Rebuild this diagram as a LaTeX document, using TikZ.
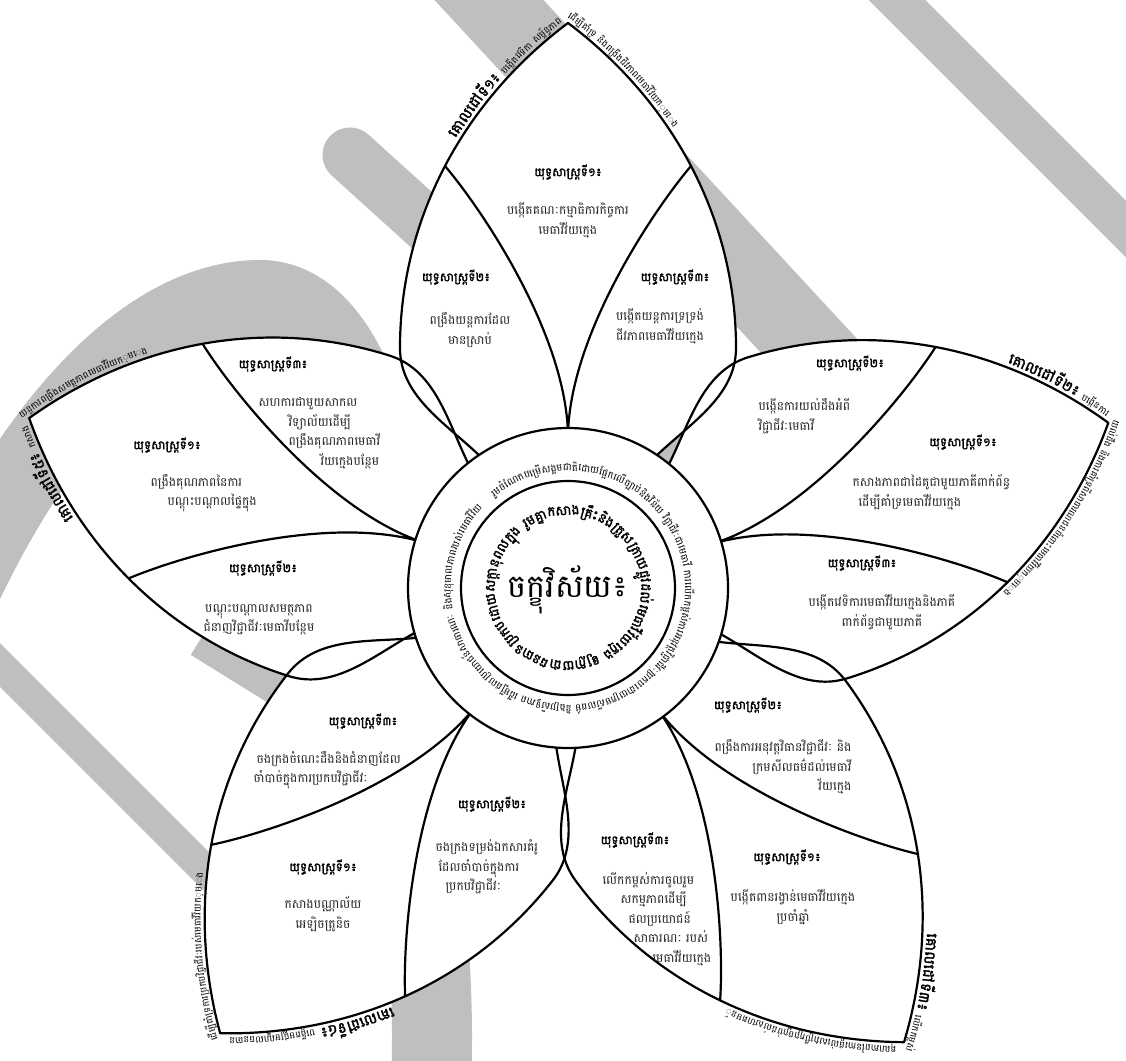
\documentclass[tikz,border=0pt]{standalone}
\usepackage{fontspec}
\usetikzlibrary{decorations.text}
\newfontfamily\khmer[Script=Khmer,AutoFakeBold=2]{Battambang}

% one petal in its own frame: tip up, base on the ring
\newcommand\petalline{(0,565) .. controls (104,487) and (168,370) .. (168,240) .. controls (168,190) and (119,163) .. (84,128) -- (-84,128) .. controls (-119,163) and (-168,190) .. (-168,240) .. controls (-168,370) and (-104,487) .. (0,565) -- cycle}
\newcommand\petalsplit{(-123,422) .. controls (-84,376) and (0,250) .. (0,150) .. controls (0,250) and (84,376) .. (123,422)}
\newcommand\petaltop{(-168,240) .. controls (-168,370) and (-104,487) .. (0,565) .. controls (104,487) and (168,370) .. (168,240)}
\newcommand\goalfont{\khmer\bfseries\fontsize{15}{15}\selectfont}
\newcommand\goalnote{\khmer\fontsize{9.5}{9.5}\selectfont}
\newcommand\ringfont{\khmer\fontsize{10}{10}\selectfont}
\newcommand\innerfont{\khmer\bfseries\fontsize{13.5}{13.5}\selectfont}

\begin{document}
\begin{tikzpicture}
    [x=1pt, y=1pt,
     petal/.style={draw=black, line width=2.2pt, line join=round},
     wmband/.style={draw=black!25, line width=#1},
     heading/.style={font=\khmer\bfseries\fontsize{12}{14}\selectfont},
     body/.style={font=\khmer\fontsize{12.3}{19.5}\selectfont, text=black!85, align=center}]

  % watermark, in picture pixels (y down)
  \begin{scope}[shift={(-568,588)}, yscale=-1]
    \useasboundingbox (0,0) rectangle (1126,1060);
    \fill[white] (0,0) rectangle (1126,1060);
    \draw[wmband=40] (867,-30) -- (1160,263);
    \draw[wmband=80] (451,-41) -- (886,429);
    \draw[wmband=55, line cap=round] (350,155) -- (700,472);
    \draw[wmband=80] (-40,590) .. controls (40,420) and (150,300) .. (260,300) .. controls (340,300) and (390,430) .. (400,640) .. controls (410,800) and (440,950) .. (430,1100);
    \draw[wmband=35] (200,640) -- (345,730);
    \draw[wmband=31] (-30,635) -- (260,925);
  \end{scope}

  % petals
  \foreach \r in {0,-73,-143.5,142,72.5}
    \fill[white, rotate=\r] \petalline;
  \foreach \r in {0,-73,-143.5,142,72.5} {
    \draw[petal, rotate=\r] \petalline;
    \draw[petal, rotate=\r] \petalsplit;
  }

  % goals round the tips
  \path[decorate, decoration={text along path, raise=4pt, text align={left indent=218pt},
    text={|\goalfont|{គោលដៅ}{ទី១៖} |\goalnote|{បង្កើត}{វេទិកា} {សម្ព័ន្ធ}{ភាព}{ដើម្បី}{គាំទ្រ} {និង}{ពង្រឹង}{ជីវភាព}{មេធាវី}{វ័យ}{ក្មេង}}}] \petaltop;
  \begin{scope}[rotate=-73]
    \path[decorate, decoration={text along path, raise=4pt, text align={left indent=262pt},
      text={|\goalfont|{គោលដៅ}{ទី២៖} |\goalnote|{បង្កើន}{ការ}{យល់}{ដឹង} {និង}{ការ}{គាំទ្រ}{ពី}{សាធារណជន}{ចំពោះ}{មេធាវី}{វ័យ}{ក្មេង}}}] \petaltop;
  \end{scope}
  \begin{scope}[rotate=-143.5]
    \path[decorate, decoration={text along path, raise=4pt, text align={left indent=268pt},
      text={|\goalfont|{គោលដៅ}{ទី៣៖} |\goalnote|{លើក}{កម្ពស់}{គុណភាព}{នៃ}{ការ}{ផ្តល់}{សេវា}{ប្រឹក្សា}{ច្បាប់}{ដល់}{សហគមន៍}}}] \petaltop;
  \end{scope}
  \begin{scope}[rotate=142]
    \path[decorate, decoration={text along path, raise=4pt, text align={left indent=205pt},
      text={|\goalfont|{គោលដៅ}{ទី៤៖} |\goalnote|{បង្កើត}{មជ្ឈ}{មណ្ឌល}{ធនធាន} {ដើម្បី}{គាំទ្រ}{ការ}{ប្រកប}{វិជ្ជា}{ជីវៈ}{របស់}{មេធាវី}{វ័យ}{ក្មេង}}}] \petaltop;
  \end{scope}
  \begin{scope}[rotate=72.5]
    \path[decorate, decoration={text along path, raise=4pt, text align={left indent=270pt},
      text={|\goalfont|{គោលដៅ}{ទី៥៖} |\goalnote|{កសាង}{យន្តការ}{ពង្រឹង}{សមត្ថភាព}{មេធាវី}{វ័យ}{ក្មេង}}}] \petaltop;
  \end{scope}

  % centre
  \draw[petal, fill=white] (0,0) circle[radius=160pt];
  \draw[petal] (0,0) circle[radius=107pt];
  \node[font=\khmer\fontsize{32}{32}\selectfont] (vision) at (0,-2) {ចក្ខុវិស័យ៖};
  \path[decorate, decoration={text along path, text align={fit to path},
    text={|\ringfont|{រួម}{ចំណែក}{បម្រើ}{សង្គម}{ជាតិ}{ដោយ}{ផ្អែក}{លើ}{ច្បាប់}{និង}{វិន័យ} {វិជ្ជា}{ជីវៈ}{ជា}{មេធាវី} {ការ}{លើក}{កម្ពស់}{ការ}{អនុវត្ត}{វិជ្ជា}{ជីវៈ}{ប្រកប}{ដោយ}{ក្រម}{សីល}{ធម៌} {និង}{ប្រសិទ្ធ}{ភាព} {ដើម្បី}{ផល}{ប្រយោជន៍}{សាធារណៈ} {និង}{សុខុមាល}{ភាព}{របស់}{មេធាវី}{វ័យ}{ក្មេង}}}]
    (129:117pt) arc[start angle=129, end angle=-223, radius=117pt];
  \path[decorate, decoration={text along path, text align={fit to path},
    text={|\innerfont|{រួម}{គ្នា}{កសាង}{គ្រឹះ}{និង}{ត្រួស}{ត្រាយ}{ផ្លូវ}{ដល់}{មេធាវី}{វ័យ}{ក្មេង} {ឲ្យ}{ក្លាយ}{ជា}{ធនធាន}{ប្រកប}{ដោយ}{សក្តា}{នុ}{ពល}{ក្នុង}{វិជ្ជា}{ជីវៈ}{មេធាវី}}}]
    (125:73pt) arc[start angle=125, end angle=-227, radius=73pt];

  % strategies, in picture pixels (y down)
  \begin{scope}[shift={(-568,588)}, yscale=-1]
    \node[heading] (s11h) at (568,172) {យុទ្ធសាស្ត្រទី១៖};
    \node[body] (s11b) at (568,220) {បង្កើតគណៈកម្មាធិការកិច្ចការ\\មេធាវីវ័យក្មេង};
    \node[heading] (s12h) at (456,277) {យុទ្ធសាស្ត្រទី២៖};
    \node[body] (s12b) at (470,330) {ពង្រឹងយន្តការដែល\\មានស្រាប់};
    \node[heading] (s13h) at (675,277) {យុទ្ធសាស្ត្រទី៣៖};
    \node[body] (s13b) at (660,326) {បង្កើតយន្តការទ្រទ្រង់\\ជីវភាពមេធាវីវ័យក្មេង};

    \node[heading] (s22h) at (850,363) {យុទ្ធសាស្ត្រទី២៖};
    \node[body, align=left, anchor=west] (s22b) at (755,416) {បង្កើនការយល់ដឹងអំពី\\វិជ្ជាជីវៈមេធាវី};
    \node[heading] (s21h) at (963,442) {យុទ្ធសាស្ត្រទី១៖};
    \node[body, align=left, anchor=west] (s21b) at (849,492) {កសាងភាពជាដៃគូជាមួយភាគីពាក់ព័ន្ធ\\\hspace*{6pt}ដើម្បីគាំទ្រមេធាវីវ័យក្មេង};
    \node[heading] (s23h) at (862,563) {យុទ្ធសាស្ត្រទី៣៖};
    \node[body] (s23b) at (882,612) {បង្កើតវេទិការមេធាវីវ័យក្មេងនិងភាគី\\ពាក់ព័ន្ធជាមួយភាគី};

    \node[heading] (s53h) at (273,364) {យុទ្ធសាស្ត្រទី៣៖};
    \node[body, align=left, anchor=west] (s53b) at (255,433) {សហការជាមួយសាកល\\\hspace*{30pt}វិទ្យាល័យដើម្បី\\\hspace*{30pt}ពង្រឹងគុណភាពមេធាវី\\\hspace*{62pt}វ័យក្មេងបន្ថែម};
    \node[heading] (s51h) at (167,445) {យុទ្ធសាស្ត្រទី១៖};
    \node[body, align=left, anchor=west] (s51b) at (147,493) {ពង្រឹងគុណភាពនៃការ\\\hspace*{17pt}បណ្តុះបណ្តាលផ្ទៃក្នុង};
    \node[heading] (s52h) at (263,568) {យុទ្ធសាស្ត្រទី២៖};
    \node[body] (s52b) at (259,620) {បណ្តុះបណ្តាលសមត្ថភាព\\ជំនាញវិជ្ជាជីវៈមេធាវីបន្ថែម};

    \node[heading] (s43h) at (363,721) {យុទ្ធសាស្ត្រទី៣៖};
    \node[body, align=left, anchor=west] (s43b) at (250,770) {\hspace*{3pt}ចងក្រងចំណេះដឹងនិងជំនាញដែល\\ចាំបាច់ក្នុងការប្រកបវិជ្ជាជីវៈ};
    \node[heading] (s42h) at (492,804) {យុទ្ធសាស្ត្រទី២៖};
    \node[body, align=left, anchor=west] (s42b) at (432,867) {ចងក្រងទម្រង់ឯកសារគំរូ\\\hspace*{3pt}ដែលចាំបាច់ក្នុងការ\\\hspace*{10pt}ប្រកបវិជ្ជាជីវៈ};
    \node[heading] (s41h) at (323,867) {យុទ្ធសាស្ត្រទី១៖};
    \node[body] (s41b) at (323,914) {កសាងបណ្ណាល័យ\\អេឡិចត្រូនិច};

    \node[heading] (s32h) at (748,705) {យុទ្ធសាស្ត្រទី២៖};
    \node[body, align=right, anchor=east] (s32b) at (855,767) {ពង្រឹងការអនុវត្តវិធានវិជ្ជាជីវៈ និង\\ក្រមសីលធម៌ដល់មេធាវី\\វ័យក្មេង};
    \node[heading] (s33h) at (635,840) {យុទ្ធសាស្ត្រទី៣៖};
    \node[body, align=left, anchor=west] (s33b) at (599,919) {លើកកម្ពស់ការចូលរួម\\\hspace*{18pt}សកម្មភាពដើម្បី\\\hspace*{26pt}ផលប្រយោជន៍\\\hspace*{31pt}សាធារណៈ របស់\\\hspace*{50pt}មេធាវីវ័យក្មេង};
    \node[heading] (s31h) at (787,857) {យុទ្ធសាស្ត្រទី១៖};
    \node[body] (s31b) at (793,907) {បង្កើតពានរង្វាន់មេធាវីវ័យក្មេង\\ប្រចាំឆ្នាំ};
  \end{scope}
\end{tikzpicture}
\end{document}
